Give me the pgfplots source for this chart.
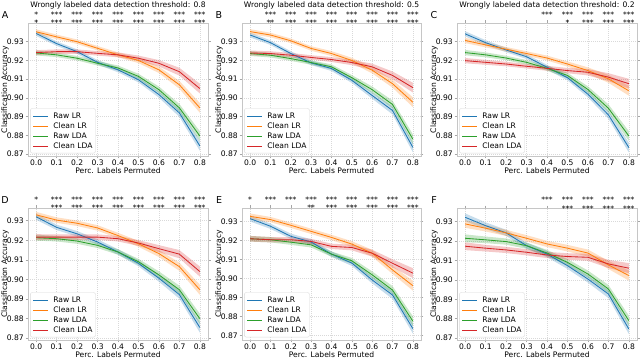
\documentclass[border=0pt]{standalone}
\usepackage{fontspec}
\setmainfont{DejaVu Sans}
\usepackage{pgfplots}
\pgfplotsset{compat=1.18}
\usepackage{pgfplotstable}
\usepgfplotslibrary{fillbetween}

\definecolor{cb}{HTML}{1F77B4}
\definecolor{co}{HTML}{FF7F0E}
\definecolor{cg}{HTML}{2CA02C}
\definecolor{cr}{HTML}{D62728}
\newcommand{\ff}{\fontsize{7.6}{9}\selectfont}

% x = perc. labels permuted; rlr/clr/rlda/clda = mean accuracy; e = band half width
\pgfplotstableread{
x   rlr    clr    rlda   clda   e
0.0 0.9344 0.9353 0.9240 0.9242 0.0013
0.1 0.9290 0.9326 0.9230 0.9247 0.0012
0.2 0.9247 0.9300 0.9212 0.9247 0.0012
0.3 0.9190 0.9265 0.9185 0.9238 0.0012
0.4 0.9150 0.9230 0.9160 0.9230 0.0013
0.5 0.9097 0.9200 0.9115 0.9212 0.0014
0.6 0.9018 0.9150 0.9044 0.9185 0.0017
0.7 0.8920 0.9070 0.8947 0.9140 0.0021
0.8 0.8744 0.8947 0.8797 0.9050 0.0026
}\tA
\pgfplotstableread{
x   rlr    clr    rlda   clda   e
0.0 0.9336 0.9354 0.9237 0.9240 0.0013
0.1 0.9295 0.9336 0.9228 0.9237 0.0012
0.2 0.9237 0.9305 0.9210 0.9228 0.0012
0.3 0.9187 0.9264 0.9189 0.9216 0.0012
0.4 0.9157 0.9237 0.9166 0.9205 0.0013
0.5 0.9094 0.9200 0.9108 0.9189 0.0014
0.6 0.9013 0.9148 0.9044 0.9166 0.0017
0.7 0.8933 0.9076 0.8965 0.9120 0.0021
0.8 0.8736 0.8977 0.8780 0.9055 0.0026
}\tB
\pgfplotstableread{
x   rlr    clr    rlda   clda   e
0.0 0.9342 0.9307 0.9242 0.9199 0.0014
0.1 0.9295 0.9283 0.9230 0.9190 0.0013
0.2 0.9256 0.9260 0.9213 0.9181 0.0012
0.3 0.9220 0.9237 0.9190 0.9169 0.0012
0.4 0.9164 0.9213 0.9158 0.9158 0.0013
0.5 0.9108 0.9181 0.9120 0.9146 0.0014
0.6 0.9020 0.9146 0.9045 0.9137 0.0017
0.7 0.8910 0.9102 0.8945 0.9111 0.0021
0.8 0.8735 0.9038 0.8797 0.9076 0.0026
}\tC
\pgfplotstableread{
x   rlr    clr    rlda   clda   e
0.0 0.9320 0.9330 0.9213 0.9216 0.0015
0.1 0.9266 0.9303 0.9208 0.9216 0.0014
0.2 0.9233 0.9287 0.9196 0.9216 0.0014
0.3 0.9191 0.9263 0.9174 0.9216 0.0014
0.4 0.9140 0.9224 0.9140 0.9208 0.0014
0.5 0.9082 0.9182 0.9090 0.9186 0.0015
0.6 0.9006 0.9132 0.9023 0.9157 0.0018
0.7 0.8922 0.9065 0.8947 0.9129 0.0021
0.8 0.8754 0.8947 0.8799 0.9040 0.0026
}\tD
\pgfplotstableread{
x   rlr    clr    rlda   clda   e
0.0 0.9314 0.9326 0.9208 0.9208 0.0015
0.1 0.9274 0.9309 0.9203 0.9203 0.0014
0.2 0.9221 0.9279 0.9190 0.9203 0.0014
0.3 0.9191 0.9247 0.9176 0.9194 0.0014
0.4 0.9127 0.9215 0.9127 0.9168 0.0014
0.5 0.9080 0.9180 0.9092 0.9162 0.0015
0.6 0.8991 0.9132 0.9018 0.9132 0.0018
0.7 0.8912 0.9044 0.8938 0.9079 0.0021
0.8 0.8735 0.8961 0.8774 0.9027 0.0026
}\tE
\pgfplotstableread{
x   rlr    clr    rlda   clda   e
0.0 0.9322 0.9288 0.9214 0.9173 0.0020
0.1 0.9279 0.9266 0.9206 0.9163 0.0017
0.2 0.9242 0.9242 0.9197 0.9154 0.0016
0.3 0.9176 0.9214 0.9176 0.9142 0.0016
0.4 0.9133 0.9185 0.9138 0.9128 0.0016
0.5 0.9073 0.9163 0.9090 0.9120 0.0017
0.6 0.9004 0.9138 0.9030 0.9116 0.0018
0.7 0.8927 0.9077 0.8953 0.9082 0.0021
0.8 0.8747 0.9022 0.8790 0.9060 0.0026
}\tF

% confidence band for one column of a table
\newcommand{\band}[3]{%
  \addplot[draw=none, forget plot, name path=bu] table[x=x, y expr=\thisrow{#2}+\thisrow{e}] {#1};
  \addplot[draw=none, forget plot, name path=bl] table[x=x, y expr=\thisrow{#2}-\thisrow{e}] {#1};
  \addplot[fill=#3, fill opacity=0.25, draw=none, forget plot] fill between[of=bu and bl];
}
% legend sample line, drawn at row #2 (from the bottom) of legend node L
\newcommand{\swatch}[2]{%
  \draw[#1, line width=1pt] ([xshift=3pt, yshift=7.1pt+#2*10pt]L.south west) -- ++(15pt,0pt);
}
% all four series of one panel, with the legend box
\newcommand{\series}[1]{%
  \band{#1}{rlr}{cb}\band{#1}{clr}{co}\band{#1}{rlda}{cg}\band{#1}{clda}{cr}
  \addplot[color=cb, line width=0.85pt] table[x=x, y=rlr] {#1};
  \addplot[color=co, line width=0.85pt] table[x=x, y=clr] {#1};
  \addplot[color=cg, line width=0.85pt] table[x=x, y=rlda] {#1};
  \addplot[color=cr, line width=0.85pt] table[x=x, y=clda] {#1};
  \node[name=L, draw=gray!30, rounded corners=2pt, fill=white,
    anchor=south west, inner xsep=3pt, inner ysep=4.5pt, align=left,
    font=\fontsize{7.6}{10}\selectfont] at (rel axis cs:0.012,0.02)
    {\hspace*{20pt}Raw LR\\\hspace*{20pt}Clean LR\\\hspace*{20pt}Raw LDA\\\hspace*{20pt}Clean LDA};
  \swatch{cb}{3}\swatch{co}{2}\swatch{cg}{1}\swatch{cr}{0}
  \coordinate (T) at (rel axis cs:0,1);
}
% significance stars above a tick: x, upper row, lower row
\newcommand{\sig}[3]{%
  \coordinate (S) at (axis cs:#1,0.9);
  \node[font=\ff, anchor=base, yshift=5.5pt, inner sep=0pt] at (S |- T) {#2};
  \node[font=\ff, anchor=base, yshift=-3pt, inner sep=0pt] at (S |- T) {#3};
}
\newcommand{\letter}[1]{%
  \node[font=\fontsize{9.5}{11}\selectfont, inner sep=0pt] at ([xshift=-23pt, yshift=8pt]T) {#1};
}

\pgfplotsset{
  panel/.style={
    scale only axis, anchor=south west,
    xmin=-0.04, xmax=0.84,
    xtick={0,0.1,0.2,0.3,0.4,0.5,0.6,0.7,0.8},
    ytick={0.87,0.88,0.89,0.90,0.91,0.92,0.93},
    /pgf/number format/assume math mode=true,
    xticklabel style={inner sep=1pt, /pgf/number format/.cd, fixed, fixed zerofill, precision=1},
    yticklabel style={inner sep=1.5pt, /pgf/number format/.cd, fixed, fixed zerofill, precision=2},
    tick label style={font=\ff},
    xlabel={Perc. Labels Permuted},
    ylabel={Classification Accuracy},
    every axis x label/.style={at={(axis description cs:0.5,0)}, anchor=center,
      yshift=-14.5pt, font=\ff, inner sep=0pt},
    every axis y label/.style={at={(axis description cs:-0.128,0.5)}, anchor=center,
      rotate=90, font=\ff, inner sep=0pt},
    every axis title/.style={at={(axis description cs:0.5,1)}, anchor=base,
      yshift=15pt, font=\ff, inner sep=0pt},
    grid=major,
    major grid style={gray!30, line width=0.5pt, dash pattern=on 1pt off 1pt},
    axis line style={gray!45},
    tick align=outside, major tick length=2.5pt,
    tick style={gray!70, line width=0.5pt},
    clip=false,
  },
}

\begin{document}
\begin{tikzpicture}
\path (0,0) rectangle (640pt,358pt);

\begin{axis}[panel, at={(28pt,202pt)}, width=180pt, height=133pt,
  ymin=0.869, ymax=0.940,
  title={Wrongly labeled data detection threshold: 0.8}]
\series{\tA}
\letter{A}
\sig{0.0}{*}{*}
\pgfplotsinvokeforeach{0.1,0.2,0.3,0.4,0.5,0.6,0.7,0.8}{\sig{#1}{***}{***}}
\end{axis}

\begin{axis}[panel, at={(242pt,202pt)}, width=179pt, height=133pt,
  ymin=0.869, ymax=0.940,
  title={Wrongly labeled data detection threshold: 0.5}]
\series{\tB}
\letter{B}
\sig{0.1}{***}{**}
\pgfplotsinvokeforeach{0.2,0.3,0.4,0.5,0.6,0.7,0.8}{\sig{#1}{***}{***}}
\end{axis}

\begin{axis}[panel, at={(457pt,202pt)}, width=180pt, height=133pt,
  ymin=0.869, ymax=0.940,
  title={Wrongly labeled data detection threshold: 0.2}]
\series{\tC}
\letter{C}
\sig{0.4}{***}{}
\sig{0.5}{***}{*}
\pgfplotsinvokeforeach{0.6,0.7,0.8}{\sig{#1}{***}{***}}
\end{axis}

\begin{axis}[panel, at={(28pt,18pt)}, width=180pt, height=132pt,
  ymin=0.869, ymax=0.9365]
\series{\tD}
\letter{D}
\sig{0.0}{*}{}
\pgfplotsinvokeforeach{0.1,0.2,0.3,0.4,0.5,0.6,0.7,0.8}{\sig{#1}{***}{***}}
\end{axis}

\begin{axis}[panel, at={(242pt,18pt)}, width=179pt, height=132pt,
  ymin=0.8675, ymax=0.937]
\series{\tE}
\letter{E}
\sig{0.0}{*}{}
\sig{0.1}{***}{}
\sig{0.2}{***}{}
\sig{0.3}{***}{**}
\pgfplotsinvokeforeach{0.4,0.5,0.6,0.7,0.8}{\sig{#1}{***}{***}}
\end{axis}

\begin{axis}[panel, at={(457pt,18pt)}, width=180pt, height=132pt,
  ymin=0.869, ymax=0.937]
\series{\tF}
\letter{F}
\sig{0.4}{***}{}
\pgfplotsinvokeforeach{0.5,0.6,0.7,0.8}{\sig{#1}{***}{***}}
\end{axis}
\end{tikzpicture}
\end{document}
